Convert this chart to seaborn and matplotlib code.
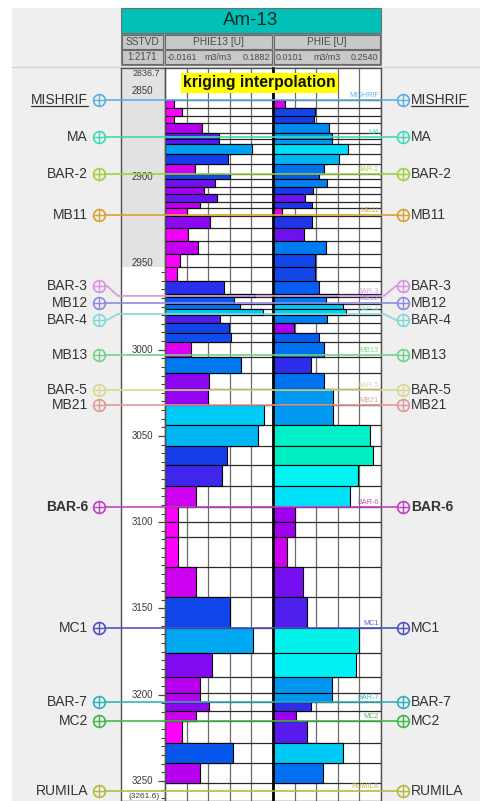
import matplotlib
matplotlib.use("Agg")
import matplotlib.pyplot as plt
import matplotlib.transforms as mtransforms
from matplotlib.patches import Rectangle
from matplotlib.colors import Normalize
import numpy as np
import seaborn as sns

# ---------------- data ----------------
WELL = "Am-13"
TRACK_TITLES = ["SSTVD", "PHIE13 [U]", "PHIE [U]"]
DEPTH_SCALE = "1:2171"
UNIT = "m3/m3"
PHIE13_RANGE = [-0.0161, 0.1882]
PHIE_RANGE = [0.0101, 0.2540]
DEPTH_TOP = 2836.7
DEPTH_BOTTOM = 3261.6
DEPTH_TICKS = [2850, 2900, 2950, 3000, 3050, 3100, 3150, 3200, 3250]
ANNOTATION = "kriging interpolation"

LAYER_BOUNDS = [2855.5, 2859.6, 2864.5, 2868.6, 2874.3, 2877.8, 2881.0, 2886.8, 2892.6,
                2898.1, 2901.3, 2905.9, 2910.0, 2914.3, 2918.1, 2922.5, 2929.4, 2937.2,
                2944.8, 2952.0, 2960.1, 2967.7, 2969.4, 2973.3, 2976.2, 2979.9, 2984.8,
                2990.5, 2995.8, 3004.2, 3013.7, 3023.0, 3032.0, 3043.6, 3055.8, 3067.1,
                3079.0, 3091.0, 3099.9, 3108.8, 3126.2, 3143.6, 3161.3, 3176.0, 3189.9,
                3198.8, 3204.0, 3209.4, 3215.5, 3227.7, 3239.3, 3251.4]

PHIE13 = [0.000, 0.017, 0.001, 0.054, 0.086, 0.086, 0.148, 0.103, 0.041, 0.107,
          0.079, 0.058, 0.082, 0.050, 0.026, 0.069, 0.027, 0.046, 0.012, 0.006,
          0.096, 0.154, 0.114, 0.126, 0.169, 0.087, 0.105, 0.108, 0.034, 0.128,
          0.068, 0.065, 0.171, 0.159, 0.102, 0.091, 0.042, 0.008, 0.008, 0.008,
          0.042, 0.106, 0.151, 0.073, 0.050, 0.050, 0.068, 0.042, 0.017, 0.113,
          0.051]

PHIE = [0.037, 0.105, 0.103, 0.137, 0.144, 0.144, 0.180, 0.159, 0.125, 0.114,
        0.132, 0.100, 0.082, 0.098, 0.030, 0.098, 0.080, 0.130, 0.105, 0.105,
        0.115, 0.157, 0.129, 0.169, 0.174, 0.131, 0.058, 0.115, 0.125, 0.095,
        0.125, 0.145, 0.145, 0.229, 0.237, 0.201, 0.184, 0.060, 0.060, 0.041,
        0.077, 0.088, 0.205, 0.197, 0.143, 0.143, 0.095, 0.061, 0.086, 0.169,
        0.124]

TOPS = ["MISHRIF", "MA", "BAR-2", "MB11", "BAR-3", "MB12", "BAR-4", "MB13",
        "BAR-5", "MB21", "BAR-6", "MC1", "BAR-7", "MC2", "RUMILA"]
TOP_DEPTHS = [2855.2, 2876.7, 2898.1, 2921.9, 2968.8, 2972.9, 2979.3, 3003.0,
              3023.3, 3032.0, 3091.2, 3161.3, 3204.2, 3215.2, 3255.8]
TOP_COLORS = ["#5ab0e0", "#40d8b8", "#a0d040", "#d8a030", "#d890e0", "#9088e0",
              "#80d8d8", "#70d088", "#d8d890", "#e09898", "#c040c8", "#5050c8",
              "#30b0b8", "#40b848", "#b8b840"]

# value colour scale (magenta -> blue -> cyan -> aquamarine)
SCALE_COLORS = ["#ff00ff", "#ff00ff", "#d000f0", "#a000f0", "#7010f0", "#1838e8",
                "#0068f0", "#0090f0", "#00b8f2", "#00dcfa", "#00f4f4", "#00f0d0",
                "#00f0c0"]
SCALE_RANGE = [0.0, 0.24]

# ---------------- layout ----------------
W, H = 481, 801
TRACK_Y0 = 68
X_D0, X_1, X_2, X_3 = 121, 165, 273, 381
LABEL_SHIFT = {"BAR-3": -10, "BAR-4": 6}
BOLD = {"BAR-6"}
LABEL_COLOR = "#333333"

sns.set_style("white")
plt.rcParams['font.family'] = ['Liberation Sans', 'DejaVu Sans']

cmap = sns.blend_palette(SCALE_COLORS, as_cmap=True)
norm = Normalize(*SCALE_RANGE)

fig = plt.figure(figsize=(W / 100, H / 100), dpi=100)
fig.patch.set_facecolor("white")


def px_axes(x0, y0, x1, y1):
    return fig.add_axes([x0 / W, 1 - y1 / H, (x1 - x0) / W, (y1 - y0) / H])


# background / header (pixel coords)
bg = px_axes(0, 0, W, H)
bg.set_xlim(0, W)
bg.set_ylim(H, 0)
bg.axis("off")
bg.add_patch(Rectangle((12, 8), W - 12, H - 8, facecolor="#efefef", edgecolor="none"))
bg.plot([12, W], [66.5, 66.5], color="#d4d4d4", lw=1)
bg.add_patch(Rectangle((X_D0, 8), X_3 - X_D0, 25, facecolor="#00c0b8", edgecolor="#707070", lw=0.8))
bg.text((X_D0 + X_3) / 2, 20.5, WELL, ha="center", va="center", fontsize=13.5, color="#0d2b2b")
bg.add_patch(Rectangle((X_D0, 34), X_3 - X_D0, 31, facecolor="#b4b4b4", edgecolor="#808080", lw=0.8))
cells = [(X_D0 + 1, X_1 - 2), (X_1, X_2 - 1), (X_2 + 1, X_3 - 1)]
for (c0, c1), title in zip(cells, TRACK_TITLES):
    for (r0, r1) in [(35, 48.5), (50, 64)]:
        bg.add_patch(Rectangle((c0, r0), c1 - c0, r1 - r0, facecolor="#c8c8c8",
                               edgecolor="#6a6a6a", lw=0.8))
    bg.text((c0 + c1) / 2, 42, title, ha="center", va="center", fontsize=7.3, color="#4a4a4a")
bg.text(sum(cells[0]) / 2, 57.3, DEPTH_SCALE, ha="center", va="center", fontsize=7, color="#4a4a4a")
for (c0, c1), rng in zip(cells[1:], [PHIE13_RANGE, PHIE_RANGE]):
    bg.text(c0 + 2, 57.3, f"{rng[0]:.4f}", ha="left", va="center", fontsize=6.4, color="#4a4a4a")
    bg.text((c0 + c1) / 2, 57.3, UNIT, ha="center", va="center", fontsize=6.4, color="#4a4a4a")
    bg.text(c1 - 1.5, 57.3, f"{rng[1]:.4f}", ha="right", va="center", fontsize=6.4, color="#4a4a4a")

# ---------------- tracks ----------------
ax_d = px_axes(X_D0, TRACK_Y0, X_1, H)
ax1 = px_axes(X_1, TRACK_Y0, X_2, H)
ax2 = px_axes(X_2, TRACK_Y0, X_3, H)

bounds = np.array(LAYER_BOUNDS)
tops_l, bots_l = bounds[:-1], bounds[1:]
centers = (tops_l + bots_l) / 2
thick = bots_l - tops_l

# depth track
ax_d.set_ylim(DEPTH_BOTTOM, DEPTH_TOP)
ax_d.set_xlim(0, 1)
ax_d.set_facecolor("white")
ax_d.axhspan(DEPTH_TOP, LAYER_BOUNDS[19], color="#e2e2e2", lw=0)
ax_d.set_yticks(DEPTH_TICKS)
ax_d.set_yticks(np.arange(2840, 3261, 5), minor=True)
ax_d.set_xticks([])
ax_d.tick_params(axis="y", which="both", direction="in", left=False, right=True,
                 labelleft=False, labelright=False, color="#444444")
ax_d.tick_params(axis="y", which="major", length=5, width=0.9)
ax_d.tick_params(axis="y", which="minor", length=3, width=0.8)
trans_d = mtransforms.blended_transform_factory(ax_d.transAxes, ax_d.transData)
for d in DEPTH_TICKS:
    ax_d.text(0.74, d, str(d), transform=trans_d, ha="right", va="center",
              fontsize=7, color="#3c3c3c")
ax_d.text(0.88, DEPTH_TOP + 0.8, f"{DEPTH_TOP}", transform=trans_d, ha="right", va="top",
          fontsize=6.4, color="#3c3c3c")
ax_d.text(0.88, DEPTH_BOTTOM - 0.3, f"({DEPTH_BOTTOM})", transform=trans_d, ha="right",
          va="bottom", fontsize=6.0, color="#3c3c3c")
for s in ax_d.spines.values():
    s.set_color("#505050")
    s.set_linewidth(1.0)

for ax, vals, rng in [(ax1, PHIE13, PHIE13_RANGE), (ax2, PHIE, PHIE_RANGE)]:
    ax.set_ylim(DEPTH_BOTTOM, DEPTH_TOP)
    ax.set_xlim(*rng)
    ax.set_facecolor("white")
    ax.set_xticks(np.linspace(rng[0], rng[1], 6))
    ax.set_yticks([])
    ax.tick_params(axis="x", length=0, labelbottom=False)
    ax.grid(axis="x", color="#6a6a6a", lw=0.9)
    ax.set_axisbelow(True)
    vals = np.array(vals)
    ax.hlines(bounds, rng[0], rng[1], color="#2a2a2a", lw=0.9, zorder=1)
    ax.barh(centers, vals - rng[0], left=rng[0], height=thick,
            color=cmap(norm(vals)), edgecolor="black", linewidth=0.8, zorder=2)
    for s in ax.spines.values():
        s.set_color("#505050")
        s.set_linewidth(1.0)
ax1.spines["right"].set_visible(False)
ax2.spines["left"].set_color("black")
ax2.spines["left"].set_linewidth(2.0)

# ---------------- overlay (formation tops) ----------------
ppm = (H - TRACK_Y0) / (DEPTH_BOTTOM - DEPTH_TOP)
ov = px_axes(0, 0, W, H)
ov.set_xlim(0, W)
ov.set_ylim(DEPTH_BOTTOM, DEPTH_TOP - TRACK_Y0 / ppm)
ov.axis("off")
ov.patch.set_alpha(0)

ov.text((178 + 341) / 2, DEPTH_TOP + 15 / ppm, ANNOTATION, ha="center", va="center",
        fontsize=11.3, fontweight="bold", color="#111111",
        bbox=dict(boxstyle="square,pad=0.17", facecolor="#ffff00", edgecolor="none"))

label_texts = {}
for name, d, col in zip(TOPS, TOP_DEPTHS, TOP_COLORS):
    s = LABEL_SHIFT.get(name, 0) / ppm
    xs = [104, 107, 118, X_D0, X_3, 384, 396, 398]
    ys = [d + s, d + s, d, d, d, d, d + s, d + s]
    ov.plot(xs, ys, color=col, lw=1.3, alpha=0.9, solid_capstyle="butt")
    for cx in (99, 403):
        ov.plot(cx, d + s, marker="o", ms=8.5, mfc="none", mec=col, mew=1.2)
        ov.plot(cx, d + s, marker="+", ms=8.5, mec=col, mew=1.0)
    fw = "bold" if name in BOLD else "normal"
    tl = ov.text(88, d + s, name, ha="right", va="center", fontsize=10,
                 color=LABEL_COLOR, fontweight=fw)
    tr = ov.text(411, d + s, name, ha="left", va="center", fontsize=10,
                 color=LABEL_COLOR, fontweight=fw)
    label_texts[name] = (tl, tr, d + s)
    ov.text(379, d - 0.6, name, ha="right", va="bottom", fontsize=5.2, color=col, alpha=0.9)

# underline for MISHRIF
fig.canvas.draw()
renderer = fig.canvas.get_renderer()
inv = ov.transData.inverted()
tl, tr, yy = label_texts["MISHRIF"]
for t in (tl, tr):
    bb = t.get_window_extent(renderer)
    (x0, _), (x1, _) = inv.transform([[bb.x0, bb.y0], [bb.x1, bb.y0]])
    ov.plot([x0, x1], [yy + 6.5 / ppm, yy + 6.5 / ppm], color=LABEL_COLOR, lw=0.9)

fig.savefig("out.png", dpi=100)
